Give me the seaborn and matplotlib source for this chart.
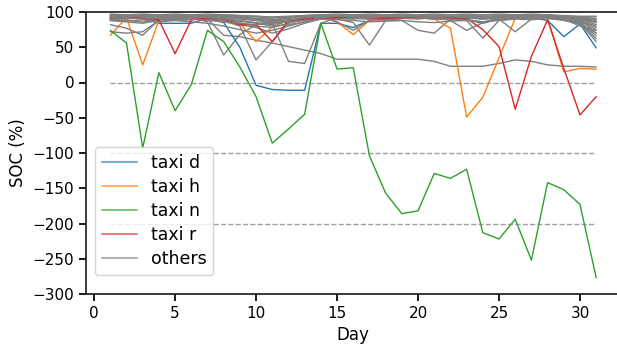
import numpy as np
import pandas as pd
import matplotlib
matplotlib.use("Agg")
import matplotlib.pyplot as plt
import seaborn as sns
from matplotlib.lines import Line2D

days = list(range(1, 32))

taxi_d = [90, 92, 91, 84, 84, 84, 91, 85, 50, -4, -10, -11, -11, 84, 84, 78,
          88, 90, 91, 92, 91, 90, 89, 84, 90, 91, 92, 88, 65, 83, 49]
taxi_h = [67, 92, 25, 88, 90, 92, 93, 91, 84, 58, 79, 88, 90, 91, 86, 68,
          88, 90, 91, 92, 90, 77, -49, -21, 35, 91, 92, 91, 15, 20, 19]
taxi_n = [74, 56, -93, 14, -40, -3, 74, 58, 22, -20, -86, -66, -45, 84, 19, 21,
          -104, -157, -186, -182, -129, -136, -123, -213, -222, -194, -252, -142,
          -152, -173, -277]
taxi_r = [92, 93, 91, 89, 41, 89, 91, 90, 82, 82, 58, 88, 90, 91, 92, 93,
          92, 91, 92, 93, 92, 91, 91, 75, 51, -38, 37, 89, 20, -46, -20]

others = [
    [88, 86, 84, 88, 90, 92, 90, 67, 65, 60, 56, 51, 46, 41, 33, 33, 33, 33, 33, 33, 30, 23, 23, 23, 27, 32, 30, 25, 23, 23, 22],
    [93, 92, 90, 91, 93, 92, 86, 39, 68, 82, 88, 91, 93, 94, 92, 93, 94, 92, 93, 94, 93, 92, 93, 94, 92, 93, 94, 93, 92, 90, 85],
    [90, 88, 86, 89, 91, 90, 92, 88, 80, 32, 58, 85, 90, 92, 91, 90, 92, 91, 93, 92, 91, 93, 92, 90, 93, 92, 91, 93, 91, 88, 80],
    [95, 94, 93, 94, 95, 94, 95, 93, 92, 90, 84, 30, 27, 84, 92, 94, 95, 94, 95, 94, 95, 94, 95, 94, 95, 94, 95, 94, 93, 92, 90],
    [92, 93, 94, 92, 90, 91, 93, 92, 90, 88, 86, 89, 91, 92, 90, 85, 53, 88, 91, 92, 93, 92, 91, 92, 93, 91, 92, 93, 92, 87, 75],
    [94, 95, 93, 92, 94, 95, 94, 93, 91, 90, 89, 92, 94, 95, 93, 92, 90, 88, 88, 74, 70, 90, 92, 93, 94, 92, 93, 94, 93, 91, 86],
    [91, 90, 92, 93, 91, 90, 92, 94, 93, 91, 90, 88, 92, 93, 94, 92, 93, 94, 93, 92, 90, 89, 88, 63, 88, 91, 92, 93, 91, 89, 70],
    [89, 91, 92, 90, 88, 89, 91, 92, 93, 90, 88, 87, 90, 91, 92, 91, 93, 92, 91, 90, 92, 91, 90, 92, 90, 72, 90, 92, 91, 86, 66],
    [82, 77, 67, 89, 92, 93, 94, 91, 88, 85, 82, 87, 92, 93, 94, 93, 92, 93, 94, 92, 91, 93, 92, 91, 93, 94, 92, 93, 90, 85, 62],
    [72, 70, 72, 88, 90, 92, 91, 89, 85, 80, 78, 84, 89, 92, 93, 91, 94, 93, 92, 93, 94, 92, 93, 94, 92, 93, 91, 94, 92, 88, 78],
    [96, 95, 96, 95, 96, 94, 95, 96, 95, 94, 93, 94, 95, 96, 95, 94, 95, 96, 95, 94, 93, 88, 74, 85, 92, 95, 96, 95, 94, 93, 93],
    [93, 94, 95, 96, 94, 93, 94, 95, 94, 93, 92, 93, 94, 95, 86, 74, 88, 92, 94, 95, 94, 93, 95, 94, 93, 94, 95, 96, 94, 90, 82],
    [90, 92, 91, 90, 88, 86, 84, 80, 75, 70, 74, 80, 86, 90, 92, 91, 90, 89, 91, 92, 90, 91, 92, 90, 91, 92, 90, 91, 89, 84, 58],
    [95, 96, 95, 94, 93, 92, 90, 86, 82, 78, 70, 76, 84, 90, 93, 95, 94, 93, 92, 94, 95, 94, 93, 92, 94, 95, 94, 93, 92, 91, 88],
    [97, 96, 97, 96, 97, 96, 97, 96, 95, 94, 92, 93, 95, 96, 97, 96, 97, 96, 97, 96, 97, 96, 97, 96, 97, 96, 97, 96, 95, 94, 94],
    [94, 92, 90, 91, 93, 94, 92, 90, 87, 84, 80, 82, 86, 92, 94, 93, 92, 94, 93, 95, 93, 94, 92, 93, 94, 93, 92, 94, 94, 93, 90],
    [92, 94, 93, 95, 94, 96, 95, 94, 92, 88, 85, 88, 92, 94, 95, 93, 94, 95, 94, 93, 92, 90, 89, 86, 90, 93, 95, 94, 90, 80, 74],
    [88, 87, 89, 86, 88, 90, 88, 86, 84, 82, 84, 86, 88, 90, 89, 88, 86, 87, 88, 86, 85, 87, 88, 86, 88, 90, 89, 91, 88, 83, 70],
]

highlight = {"taxi d": (taxi_d, "#1f77b4"), "taxi h": (taxi_h, "#ff7f0e"),
             "taxi n": (taxi_n, "#2ca02c"), "taxi r": (taxi_r, "#d62728")}
order = ["g0", "g1", "g2", "taxi d", "g3", "g4", "g5", "taxi h", "g6", "g7", "g8",
         "g9", "g10", "taxi n", "g11", "g12", "g13", "taxi r", "g14", "g15", "g16", "g17"]

sns.set_theme(style="ticks", context="notebook",
              rc={"text.color": "black", "axes.labelcolor": "black",
                  "xtick.color": "black", "ytick.color": "black",
                  "axes.edgecolor": "#222222"})
plt.rcParams['font.family'] = ['DejaVu Sans']

fig = plt.figure(figsize=(6.17, 3.49), dpi=100)
ax = fig.add_axes([86 / 617, (349 - 294) / 349, 534.5 / 617, 282 / 349])

for name in order:
    if name.startswith("g"):
        vals = others[int(name[1:])]
        col = "gray"
    else:
        vals, col = highlight[name]
    sns.lineplot(x=days, y=vals, color=col, lw=1.0, ax=ax, legend=False)

ax.hlines([0, -100, -200], 1, 31, colors="gray", alpha=0.75, linestyles="--", lw=1.0)

ax.set_xlim(-0.5, 32.5)
ax.set_ylim(-300, 100)
ax.set_xticks([0, 5, 10, 15, 20, 25, 30])
ax.set_yticks([-300, -250, -200, -150, -100, -50, 0, 50, 100])
ax.set_xlabel("Day", fontsize=12)
ax.set_ylabel("SOC (%)", fontsize=12)
ax.tick_params(labelsize=11, length=5)

handles = [Line2D([0], [0], color=c, lw=1.5, alpha=0.6) for c in
           ["#1f77b4", "#ff7f0e", "#2ca02c", "#d62728", "gray"]]
labels = ["taxi d", "taxi h", "taxi n", "taxi r", "others"]
ax.legend(handles, labels, loc="upper left", bbox_to_anchor=(0.0168, 0.521),
          borderaxespad=0, fontsize=12.5, labelspacing=0.35)

fig.savefig("out.png", dpi=100)
